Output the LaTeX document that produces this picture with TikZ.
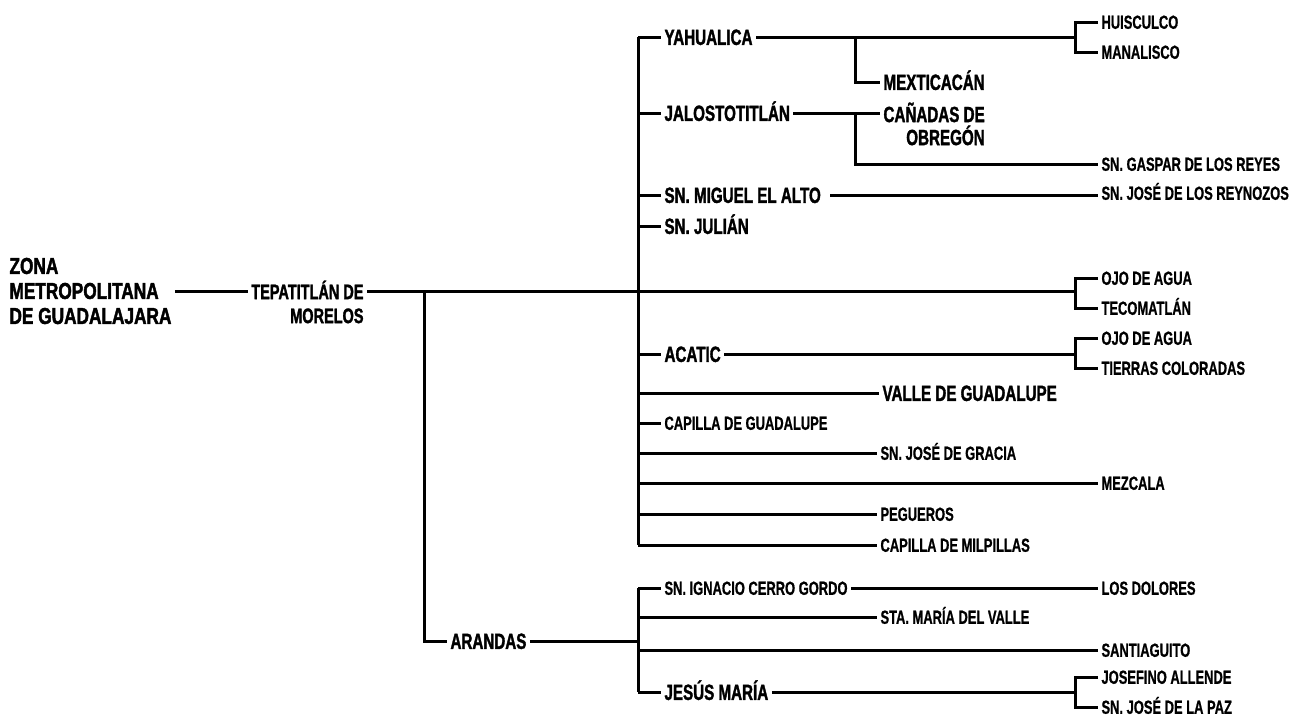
\documentclass[tikz,border=0pt]{standalone}
\usepackage{fontspec}
\setmainfont[FakeStretch=0.8]{Liberation Sans}
\newfontfamily\medfont[FakeStretch=0.68, FakeBold=0.8]{Liberation Sans Bold}
\newfontfamily\heavyfont[FakeStretch=0.69, FakeBold=1.5]{Liberation Sans Bold}
\newfontfamily\rootfont[FakeStretch=0.75, FakeBold=1.8]{Liberation Sans Bold}

\begin{document}
\begin{tikzpicture} [
	x=1pt, y=-1pt,
	line width=3pt,
	every node/.style = {
		inner xsep=2pt,
		inner ysep=0pt,
		anchor=west
	},
	lab/.style = {font=\medfont\fontsize{19}{20}\selectfont, text height=13.6pt, text depth=0pt},
	blab/.style = {font=\heavyfont\fontsize{22}{23}\selectfont, text height=15.8pt, text depth=0pt},
	rootlab/.style = {font=\rootfont\fontsize{23}{25}\selectfont, align=left},
	seclab/.style = {font=\heavyfont\fontsize{21}{24}\selectfont, align=right}
]
\useasboundingbox (0,0) rectangle (1301,720);

\coordinate (subtrunk) at (424,0);
\coordinate (trunk) at (638,0);
\coordinate (yfork) at (855,0);
\coordinate (brack) at (1075,0);

\node (zona) [rootlab] at (6,291) {ZONA\\METROPOLITANA\\DE GUADALAJARA};
\node (tepa) [seclab, anchor=north east] at (367,279) {TEPATITLÁN DE\\MORELOS};

\node (yahualica) [blab] at (661,37) {YAHUALICA};
\node (huisculco) [lab] at (1098,22) {HUISCULCO};
\node (manalisco) [lab] at (1098,52) {MANALISCO};
\node (mexticacan) [blab] at (880,82) {MEXTICACÁN};
\node (jalos) [blab] at (661,113) {JALOSTOTITLÁN};
\node (canadas) [font=\heavyfont\fontsize{22}{23}\selectfont, align=right, anchor=north west] at (880,101) {CAÑADAS DE\\OBREGÓN};
\node (gaspar) [lab] at (1098,164) {SN. GASPAR DE LOS REYES};
\node (miguel) [blab] at (661,195) {SN. MIGUEL EL ALTO};
\node (reynozos) [lab] at (1098,193) {SN. JOSÉ DE LOS REYNOZOS};
\node (julian) [blab] at (661,226) {SN. JULIÁN};
\node (ojoA) [lab] at (1098,278) {OJO DE AGUA};
\node (teco) [lab] at (1098,308) {TECOMATLÁN};
\node (acatic) [blab] at (661,354) {ACATIC};
\node (ojoB) [lab] at (1098,338) {OJO DE AGUA};
\node (tierras) [lab] at (1098,368) {TIERRAS COLORADAS};
\node (valle) [blab] at (879,393) {VALLE DE GUADALUPE};
\node (capillag) [lab] at (661,423) {CAPILLA DE GUADALUPE};
\node (gracia) [lab] at (877,453) {SN. JOSÉ DE GRACIA};
\node (mezcala) [lab] at (1098,483) {MEZCALA};
\node (pegueros) [lab] at (877,514) {PEGUEROS};
\node (milpillas) [lab] at (877,545) {CAPILLA DE MILPILLAS};

\node (arandas) [blab] at (447,641) {ARANDAS};
\node (ignacio) [lab] at (661,588) {SN. IGNACIO CERRO GORDO};
\node (dolores) [lab] at (1098,588) {LOS DOLORES};
\node (stamaria) [lab] at (877,617) {STA. MARÍA DEL VALLE};
\node (santiaguito) [lab] at (1098,650) {SANTIAGUITO};
\node (jesus) [blab] at (661,692) {JESÚS MARÍA};
\node (josefino) [lab] at (1098,677) {JOSEFINO ALLENDE};
\node (paz) [lab] at (1098,707) {SN. JOSÉ DE LA PAZ};

\draw   (zona.east) -- (zona.east -| tepa.west);
\draw   (zona.east -| tepa.east) -- (zona.east -| brack);
\draw   (ojoA.west) -| (zona.east -| brack) |- (teco.west);
\draw   (zona.east -| subtrunk) |- (arandas.west);

\draw   (yahualica.west -| trunk) -- (milpillas.west -| trunk);
\foreach \n in {yahualica, jalos, miguel, julian, acatic, valle, capillag, gracia, mezcala, pegueros, milpillas}
	\draw (\n.west -| trunk) -- (\n.west);

\draw   (yahualica.east) -- (yahualica.east -| brack);
\draw   (huisculco.west) -| (yahualica.east -| brack) |- (manalisco.west);
\draw   (yahualica.east -| yfork) |- (mexticacan.west);
\draw   (jalos.east) -- (jalos.east -| canadas.west);
\draw   (jalos.east -| yfork) |- (gaspar.west);
\draw   [shorten <=6pt] (miguel.east) -- (miguel.east -| reynozos.west);
\draw   (acatic.east) -- (acatic.east -| brack);
\draw   (ojoB.west) -| (acatic.east -| brack) |- (tierras.west);

\draw   (arandas.east) -- (arandas.east -| trunk);
\draw   (ignacio.west -| trunk) -- (jesus.west -| trunk);
\foreach \n in {ignacio, stamaria, santiaguito, jesus}
	\draw (\n.west -| trunk) -- (\n.west);
\draw   (ignacio.east) -- (dolores.west);
\draw   (jesus.east) -- (jesus.east -| brack);
\draw   (josefino.west) -| (jesus.east -| brack) |- (paz.west);

\end{tikzpicture}
\end{document}
